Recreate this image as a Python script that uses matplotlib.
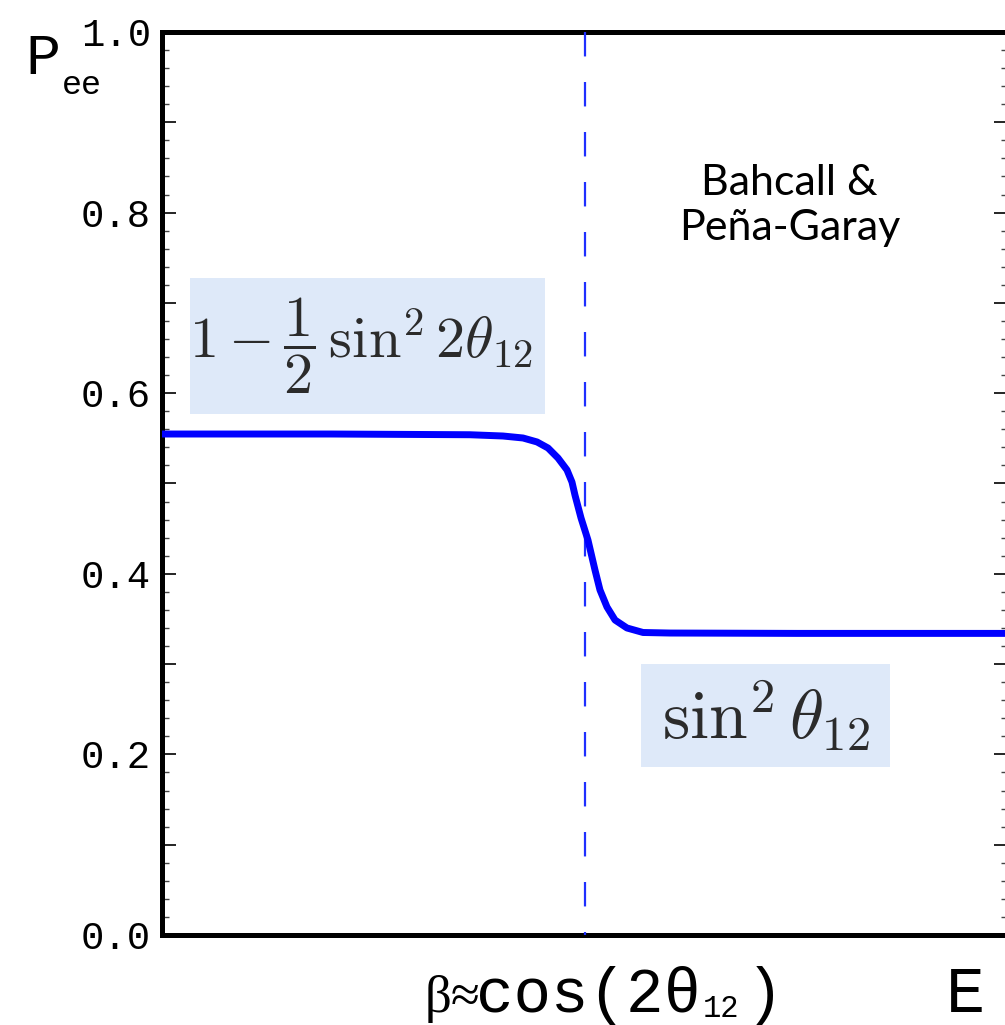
import numpy as np
import matplotlib
matplotlib.use("Agg")
import matplotlib.pyplot as plt
from matplotlib.patches import Rectangle
from matplotlib.ticker import MultipleLocator, FuncFormatter

# survival probability (x in units of the plotted axis)
energy = [0.0, 0.2, 0.364, 0.403, 0.4267, 0.4433, 0.4563, 0.4681, 0.4787,
          0.4846, 0.4882, 0.4953, 0.5035, 0.5118, 0.5177, 0.5260, 0.5355,
          0.5496, 0.5686, 0.6005, 0.75, 0.9, 1.0]
p_ee = [0.5548, 0.5548, 0.5540, 0.5526, 0.5504, 0.5460, 0.5393, 0.5282, 0.5150,
        0.5016, 0.4870, 0.4618, 0.4374, 0.4042, 0.3821, 0.3632, 0.3488,
        0.3400, 0.3350, 0.3344, 0.3340, 0.3340, 0.3340]
beta_x = 0.5
y_ticks = [0.0, 0.2, 0.4, 0.6, 0.8, 1.0]

mono = "Liberation Mono"
box_col = "#dee9f9"
txt_col = "#2b2b2b"

fig = plt.figure(figsize=(10.05, 10.25), dpi=100)
ax = fig.add_axes([162 / 1005, 90 / 1025, 846 / 1005, 903 / 1025])
ax.set_xlim(0, 1)
ax.set_ylim(0, 1)

# boxes behind the formulas
ax.add_patch(Rectangle((0.033, 0.577), 0.42, 0.151, transform=ax.transAxes,
                       fc=box_col, ec="none", zorder=1))
ax.add_patch(Rectangle((0.566, 0.186), 0.295, 0.114, transform=ax.transAxes,
                       fc=box_col, ec="none", zorder=1))
ax.text(0.235, 0.652, r"$1-\dfrac{1}{2}\,\sin^2 2\theta_{12}$", transform=ax.transAxes,
        ha="center", va="center", fontsize=42, color=txt_col, math_fontfamily="cm", zorder=2)
ax.text(0.714, 0.243, r"$\sin^2\theta_{12}$", transform=ax.transAxes,
        ha="center", va="center", fontsize=50, color=txt_col, math_fontfamily="cm", zorder=2)

ax.plot([beta_x, beta_x], [1, 0], color="#1f2fff", lw=1.6, ls=(0, (11, 11.5)), zorder=3)
ax.plot(energy, p_ee, color="#0000ff", lw=5, solid_capstyle="butt",
        solid_joinstyle="round", zorder=4)

ax.text(0.742, 0.808, "Bahcall &\nPeña-Garay", transform=ax.transAxes, ha="center",
        va="center", fontsize=31, family="Lato", linespacing=1.22)

for s in ax.spines.values():
    s.set_linewidth(3.6)

ax.yaxis.set_major_locator(MultipleLocator(0.1))
ax.yaxis.set_minor_locator(MultipleLocator(0.02))
ax.yaxis.set_major_formatter(FuncFormatter(
    lambda v, p: f"{v:.1f}" if any(abs(v - t) < 1e-6 for t in y_ticks) else ""))
ax.tick_params(axis="y", which="both", direction="in", left=True, right=True, pad=8)
ax.tick_params(axis="y", which="major", length=10, width=1.2, labelsize=28)
ax.tick_params(axis="y", which="minor", length=5, width=1.0, color="#444444")
for lab in ax.get_yticklabels():
    lab.set_family(mono)
ax.set_xticks([])

# axis labels
fig.text(25 / 1005, 1 - 74 / 1025, "P", family=mono, fontsize=42, va="baseline")
fig.text(62 / 1005, 1 - 94 / 1025, "ee", family=mono, fontsize=24, va="baseline")
fig.text(425 / 1005, 1 - 1012 / 1025, "β≈", family="Liberation Serif", fontsize=38, va="baseline")
fig.text(476 / 1005, 1 - 1012 / 1025, "cos(2θ", family=mono, fontsize=45, va="baseline")
fig.text(703 / 1005, 1 - 1017 / 1025, "12", family=mono, fontsize=22, va="baseline")
fig.text(746 / 1005, 1 - 1012 / 1025, ")", family=mono, fontsize=45, va="baseline")
fig.text(946 / 1005, 1 - 1012 / 1025, "E", family=mono, fontsize=47, va="baseline")

fig.savefig("out.png", dpi=100)
